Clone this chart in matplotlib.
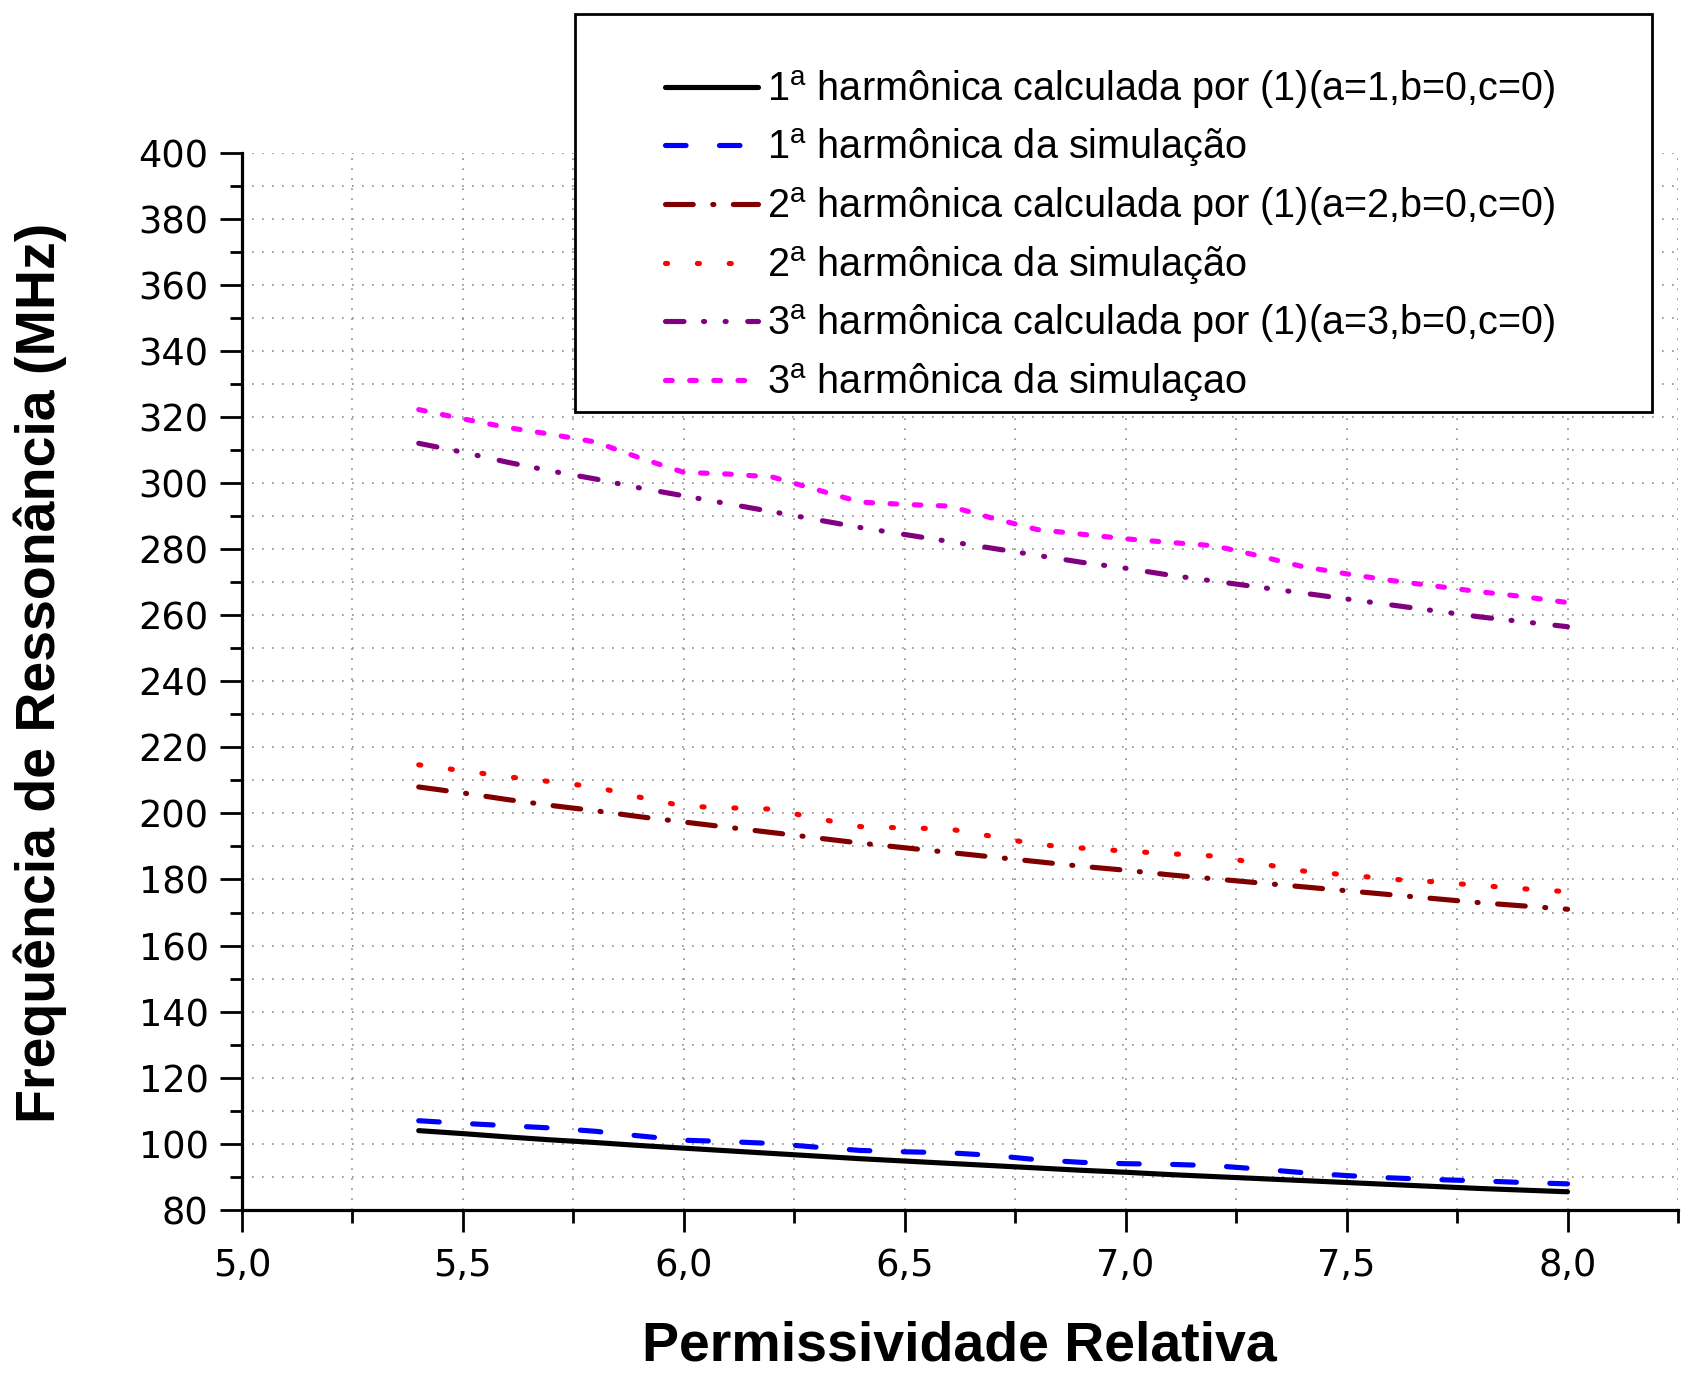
import matplotlib
matplotlib.use("Agg")
import matplotlib.pyplot as plt
from matplotlib.ticker import MultipleLocator, FuncFormatter
from matplotlib.patches import Rectangle

# numeros dos eixos mais largos (DejaVu), textos em Liberation Sans
plt.rcParams['font.family'] = ['DejaVu Sans']
plt.rcParams['mathtext.fontset'] = 'custom'
plt.rcParams['mathtext.rm'] = 'Liberation Sans'
plt.rcParams['mathtext.it'] = 'Liberation Sans:italic'
plt.rcParams['mathtext.bf'] = 'Liberation Sans:bold'
TXT = ['Liberation Sans', 'DejaVu Sans']

# permissividade relativa
eps = [5.4, 5.5, 5.6, 5.7, 5.8, 5.9, 6.0, 6.1, 6.2, 6.3, 6.4, 6.5, 6.6, 6.7,
       6.8, 6.9, 7.0, 7.1, 7.2, 7.3, 7.4, 7.5, 7.6, 7.7, 7.8, 7.9, 8.0]

# frequencias (MHz)
calc_1 = [104.0, 103.1, 102.1, 101.2, 100.4, 99.5, 98.7, 97.9, 97.1, 96.3, 95.5,
          94.8, 94.1, 93.4, 92.7, 92.0, 91.4, 90.7, 90.1, 89.5, 88.9, 88.3, 87.7,
          87.1, 86.5, 86.0, 85.5]
sim_1 = [107.0, 106.2, 105.5, 104.8, 103.8, 102.4, 101.1, 100.7, 100.1, 99.0, 98.0,
         97.6, 97.3, 96.5, 95.2, 94.4, 94.0, 93.8, 93.4, 92.4, 91.3, 90.4, 89.7,
         89.2, 88.8, 88.3, 87.9]
calc_2 = [208.0, 206.2, 204.2, 202.4, 200.8, 199.0, 197.4, 195.8, 194.2, 192.6, 191.0,
          189.6, 188.2, 186.8, 185.4, 184.0, 182.8, 181.4, 180.2, 179.0, 177.8, 176.6,
          175.4, 174.2, 173.0, 172.0, 171.0]
sim_2 = [214.7, 212.9, 211.1, 209.6, 208.0, 204.9, 202.2, 201.7, 201.3, 198.5, 196.0,
         195.6, 195.3, 193.0, 190.6, 189.5, 188.6, 187.8, 187.1, 184.9, 182.6, 181.4,
         180.1, 179.3, 178.2, 177.2, 176.3]
calc_3 = [312.0, 309.3, 306.3, 303.6, 301.2, 298.5, 296.1, 293.7, 291.3, 288.9, 286.5,
          284.4, 282.3, 280.2, 278.1, 276.0, 274.2, 272.1, 270.3, 268.5, 266.7, 264.9,
          263.1, 261.3, 259.5, 258.0, 256.5]
sim_3 = [322.2, 319.4, 316.8, 314.7, 312.4, 307.6, 303.2, 302.7, 301.8, 298.0, 294.2,
         293.5, 293.0, 289.3, 285.9, 284.5, 283.1, 282.0, 281.0, 278.0, 274.7, 272.5,
         270.5, 268.8, 267.1, 265.6, 263.8]

labels = [r'1$^{\mathrm{a}}$ harmônica calculada por (1)(a=1,b=0,c=0)',
          r'1$^{\mathrm{a}}$ harmônica da simulação',
          r'2$^{\mathrm{a}}$ harmônica calculada por (1)(a=2,b=0,c=0)',
          r'2$^{\mathrm{a}}$ harmônica da simulação',
          r'3$^{\mathrm{a}}$ harmônica calculada por (1)(a=3,b=0,c=0)',
          r'3$^{\mathrm{a}}$ harmônica da simulaçao']

fig = plt.figure(figsize=(16.97, 13.74), dpi=100)
ax = fig.add_axes([0.1426, 0.1194, 0.8462, 0.7696])

lw = 3.7
kw = dict(lw=lw, dash_capstyle='round', solid_capstyle='round')
h1, = ax.plot(eps, calc_1, color='black', **kw)
h2, = ax.plot(eps, sim_1, color='#0000FF', dashes=(4.0, 6.5), **kw)
h3, = ax.plot(eps, calc_2, color='#800000', dashes=(5.4, 3.8, 0.2, 3.8), **kw)
h4, = ax.plot(eps, sim_2, color='#FF0000', dashes=(0.4, 5.8), **kw)
h5, = ax.plot(eps, calc_3, color='#800080', dashes=(3.6, 3.8, 0.2, 4.0, 0.2, 4.2), **kw)
h6, = ax.plot(eps, sim_3, color='#FF00FF', dashes=(1.3, 3.4), **kw)

ax.set_xlim(5.0, 8.25)
ax.set_ylim(80, 400)
ax.xaxis.set_major_locator(MultipleLocator(0.5))
ax.xaxis.set_minor_locator(MultipleLocator(0.25))
ax.yaxis.set_major_locator(MultipleLocator(20))
ax.yaxis.set_minor_locator(MultipleLocator(10))
ax.xaxis.set_major_formatter(FuncFormatter(lambda v, p: f'{v:.1f}'.replace('.', ',')))
ax.yaxis.set_major_formatter(FuncFormatter(lambda v, p: f'{v:.0f}'))

ax.spines['top'].set_visible(False)
ax.spines['right'].set_visible(False)
for s in ('left', 'bottom'):
    ax.spines[s].set_linewidth(2.3)
ax.tick_params(which='major', direction='out', length=16, width=2, labelsize=26.5, pad=8)
ax.tick_params(which='minor', direction='out', length=9, width=2)
ax.tick_params(axis='x', which='major', pad=11)

ax.grid(which='both', linestyle=(0, (1, 5)), color='#8c8c8c', lw=1.2)
ax.set_axisbelow(True)

ax.set_xlabel('Permissividade Relativa', fontsize=40, fontweight='bold', family=TXT)
ax.set_ylabel('Frequência de Ressonância (MHz)', fontsize=40, fontweight='bold', family=TXT)
ax.xaxis.set_label_coords(0.4993, -0.105)
ax.yaxis.set_label_coords(-0.122, 0.508)

# caixa da legenda
fig.patches.append(Rectangle((0.3388, 0.7001), 0.6347, 0.2897, transform=fig.transFigure,
                             facecolor='white', edgecolor='black', lw=2, zorder=5))
fig.legend([h1, h2, h3, h4, h5, h6], labels, loc='upper left',
           bbox_to_anchor=(0.3916, 0.9506), frameon=False,
           prop={'family': TXT, 'size': 28.5},
           handlelength=2.35, handletextpad=0.23, labelspacing=0.40,
           borderpad=0, borderaxespad=0).set_zorder(6)

fig.savefig('out.png', dpi=100)
